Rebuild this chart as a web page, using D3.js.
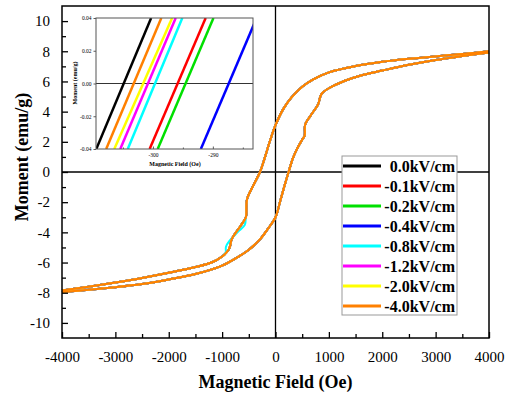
<!DOCTYPE html>
<html>
<head>
<meta charset="utf-8">
<script src="https://cdn.jsdelivr.net/npm/d3@7"></script>
<style>
  body { margin: 0; background: #fff; }
  svg, svg text { font-family: "Liberation Serif", "Times New Roman", Times, "DejaVu Serif", serif !important; }
</style>
</head>
<body>
<svg id="chart" width="512" height="397"></svg>
<script>
// descending branch of the loop (field from +4000 to -4000)
const fieldDown = [4000, 3500, 3000, 2500, 2000, 1500, 1000, 700, 500, 300, 150, 0, -100, -200, -290, -410, -530, -545, -555, -650, -820, -850, -880, -1000, -1200, -1500, -2000, -2500, -3000, -3500, -4000]
const momentDown = [8.0, 7.82, 7.66, 7.5, 7.3, 7.02, 6.6, 6.12, 5.65, 4.95, 4.2, 3.1, 2.1, 0.95, 0.0, -0.85, -1.75, -2.2, -3.0, -3.55, -4.45, -4.9, -5.15, -5.6, -6.0, -6.3, -6.68, -7.02, -7.32, -7.6, -7.85]
// ascending branch (field from -4000 to +4000)
const fieldUp = [-4000, -3500, -3000, -2500, -2000, -1500, -1000, -700, -500, -300, -150, 0, 90, 170, 245, 330, 400, 510, 545, 556, 650, 800, 840, 880, 1000, 1300, 1600, 2000, 2500, 3000, 3500, 4000]
const momentUp = [-7.95, -7.8, -7.63, -7.42, -7.12, -6.76, -6.2, -5.62, -5.15, -4.5, -3.8, -3.0, -1.9, -0.9, 0.0, 0.95, 1.5, 2.2, 2.4, 3.15, 3.7, 4.5, 5.0, 5.25, 5.55, 6.05, 6.4, 6.72, 7.1, 7.42, 7.68, 7.92]
// the cyan curve separates a little near -900 Oe
const cyanKinkField = [-1000, -935, -928, -870, -700, -575, -560]
const cyanKinkMoment = [-5.6, -5.35, -4.95, -4.6, -3.95, -3.5, -3.0]

const seriesNames = ['0.0kV/cm', '-0.1kV/cm', '-0.2kV/cm', '-0.4kV/cm', '-0.8kV/cm', '-1.2kV/cm', '-2.0kV/cm', '-4.0kV/cm']
const seriesColors = ['#000000', '#ff0000', '#00e000', '#0000ff', '#00ffff', '#ff00ff', '#ffff00', '#ff8000']

// inset: field where each line sits at -0.04 and at +0.04 emu/g
const insetFieldBottom = [-309.45, -300.55, -299.2, -292.0, -304.2, -305.45, -306.45, -307.8]
const insetFieldTop = [-300.3, -291.2, -289.9, -282.7, -295.1, -296.2, -296.8, -298.6]
const insetMoment = [-0.04, 0.04]

const xTicks = [-4000, -3000, -2000, -1000, 0, 1000, 2000, 3000, 4000]
const yTicks = [-10, -8, -6, -4, -2, 0, 2, 4, 6, 8, 10]
const insetXTicks = [-300, -290]
const insetYTicks = [-0.04, -0.02, 0, 0.02, 0.04]

const serif = '"Liberation Serif", "Times New Roman", Times, "DejaVu Serif", serif'
const svg = d3.select('#chart')
const pLeft = 62, pRight = 489, pTop = 6, pBottom = 338

const x = d3.scaleLinear().domain([-4000, 4000]).range([pLeft, pRight])
const y = d3.scaleLinear().domain([-11, 11]).range([pBottom, pTop])

const line = d3.line()
  .x(d => x(d[0]))
  .y(d => y(d[1]))
  .curve(d3.curveCatmullRom.alpha(0.5))

const down = fieldDown.map((f, i) => [f, momentDown[i]])
const up = fieldUp.map((f, i) => [f, momentUp[i]])

// zero lines
svg.append('line').attr('x1', pLeft).attr('x2', pRight).attr('y1', y(0)).attr('y2', y(0))
  .attr('stroke', '#000').attr('stroke-width', 1.3)
svg.append('line').attr('x1', x(0)).attr('x2', x(0)).attr('y1', pTop).attr('y2', pBottom)
  .attr('stroke', '#000').attr('stroke-width', 1.3)

// loops, orange drawn last on top
seriesColors.forEach((c, i) => {
  svg.append('path').attr('d', line(down)).attr('fill', 'none').attr('stroke', c).attr('stroke-width', 2)
  svg.append('path').attr('d', line(up)).attr('fill', 'none').attr('stroke', c).attr('stroke-width', 2)
  if (i === 4) {
    svg.append('path').attr('d', line(cyanKinkField.map((f, k) => [f, cyanKinkMoment[k]])))
      .attr('fill', 'none').attr('stroke', c).attr('stroke-width', 2)
  }
})

// axes, ticks pointing inward
const xAxis = svg.append('g').attr('transform', `translate(0,${pBottom})`)
  .call(d3.axisBottom(x).tickValues(xTicks).tickSizeInner(-6).tickSizeOuter(0).tickPadding(13).tickFormat(d => String(d)))
xAxis.append('g').call(d3.axisBottom(x).tickValues(d3.range(-3500, 4000, 1000)).tickSizeInner(-4).tickSizeOuter(0).tickFormat(''))
const yAxis = svg.append('g').attr('transform', `translate(${pLeft},0)`)
  .call(d3.axisLeft(y).tickValues(yTicks).tickSizeInner(-6).tickSizeOuter(0).tickPadding(12).tickFormat(d => String(d)))
yAxis.append('g').call(d3.axisLeft(y).tickValues(d3.range(-9, 11, 2)).tickSizeInner(-4).tickSizeOuter(0).tickFormat(''))
svg.selectAll('.domain').remove()
svg.selectAll('.tick line').attr('stroke', '#000').attr('stroke-width', 1.3)
svg.selectAll('g').attr('font-family', serif)
xAxis.selectAll('text').attr('font-size', 15).attr('fill', '#000')
yAxis.selectAll('text').attr('font-size', 15).attr('fill', '#000')

svg.append('rect').attr('x', pLeft).attr('y', pTop).attr('width', pRight - pLeft).attr('height', pBottom - pTop)
  .attr('fill', 'none').attr('stroke', '#000').attr('stroke-width', 1.5)

svg.append('text').attr('x', (pLeft + pRight) / 2).attr('y', 388).attr('text-anchor', 'middle')
  .attr('font-size', 18).attr('font-weight', 'bold').text('Magnetic Field (Oe)')
svg.append('text').attr('transform', 'translate(28,157) rotate(-90)').attr('text-anchor', 'middle')
  .attr('font-size', 18).attr('font-weight', 'bold').text('Moment (emu/g)')

// legend
const lg = svg.append('g')
lg.append('rect').attr('x', 342).attr('y', 156).attr('width', 115).attr('height', 159)
  .attr('fill', '#fff').attr('stroke', '#999').attr('stroke-width', 1)
seriesNames.forEach((n, i) => {
  const yy = 166 + i * 20
  lg.append('line').attr('x1', 343).attr('x2', 381).attr('y1', yy).attr('y2', yy)
    .attr('stroke', seriesColors[i]).attr('stroke-width', 3)
  lg.append('text').attr('x', 455).attr('y', yy + 5.5).attr('text-anchor', 'end')
    .attr('font-size', 16).attr('font-weight', 'bold').text(n)
})

// inset
const ix = d3.scaleLinear().domain([-309.5, -283.3]).range([96, 253])
const iy = d3.scaleLinear().domain([-0.04, 0.04]).range([149, 18])
const ins = svg.append('g')
ins.append('rect').attr('x', 68).attr('y', 10).attr('width', 190).attr('height', 160).attr('fill', '#fff')
ins.append('clipPath').attr('id', 'insclip').append('rect')
  .attr('x', 96).attr('y', 18).attr('width', 157).attr('height', 131)
const ip = ins.append('g').attr('clip-path', 'url(#insclip)')
ip.append('line').attr('x1', 96).attr('x2', 253).attr('y1', iy(0)).attr('y2', iy(0))
  .attr('stroke', '#000').attr('stroke-width', 0.8)
const iline = d3.line().x(d => ix(d[0])).y(d => iy(d[1]))
seriesColors.forEach((c, i) => {
  ip.append('path').attr('d', iline([[insetFieldBottom[i], insetMoment[0]], [insetFieldTop[i], insetMoment[1]]]))
    .attr('stroke', c).attr('stroke-width', 2.5).attr('fill', 'none')
})
const ixAxis = ins.append('g').attr('transform', 'translate(0,149)')
  .call(d3.axisBottom(ix).tickValues(insetXTicks).tickSizeInner(-2.5).tickSizeOuter(0).tickPadding(4).tickFormat(d => String(d)))
ixAxis.append('g').call(d3.axisBottom(ix).tickValues([-305, -295, -285]).tickSizeInner(-1.5).tickSizeOuter(0).tickFormat(''))
const iyAxis = ins.append('g').attr('transform', 'translate(96,0)')
  .call(d3.axisLeft(iy).tickValues(insetYTicks).tickSizeInner(2.5).tickSizeOuter(0).tickPadding(2).tickFormat(d => d.toFixed(2)))
ins.selectAll('.domain').remove()
ins.selectAll('g').attr('font-family', serif)
ins.selectAll('.tick line').attr('stroke', '#333').attr('stroke-width', 0.8)
ins.selectAll('.tick text').attr('font-size', 5.5).attr('fill', '#000')
ins.append('rect').attr('x', 96).attr('y', 18).attr('width', 157).attr('height', 131)
  .attr('fill', 'none').attr('stroke', '#555').attr('stroke-width', 1)
ins.append('text').attr('x', 175).attr('y', 166).attr('text-anchor', 'middle')
  .attr('font-size', 6).attr('font-weight', 'bold').text('Magnetic Field (Oe)')
ins.append('text').attr('transform', 'translate(77,83) rotate(-90)').attr('text-anchor', 'middle')
  .attr('font-size', 6).attr('font-weight', 'bold').text('Moment (emu/g)')
</script>
</body>
</html>
